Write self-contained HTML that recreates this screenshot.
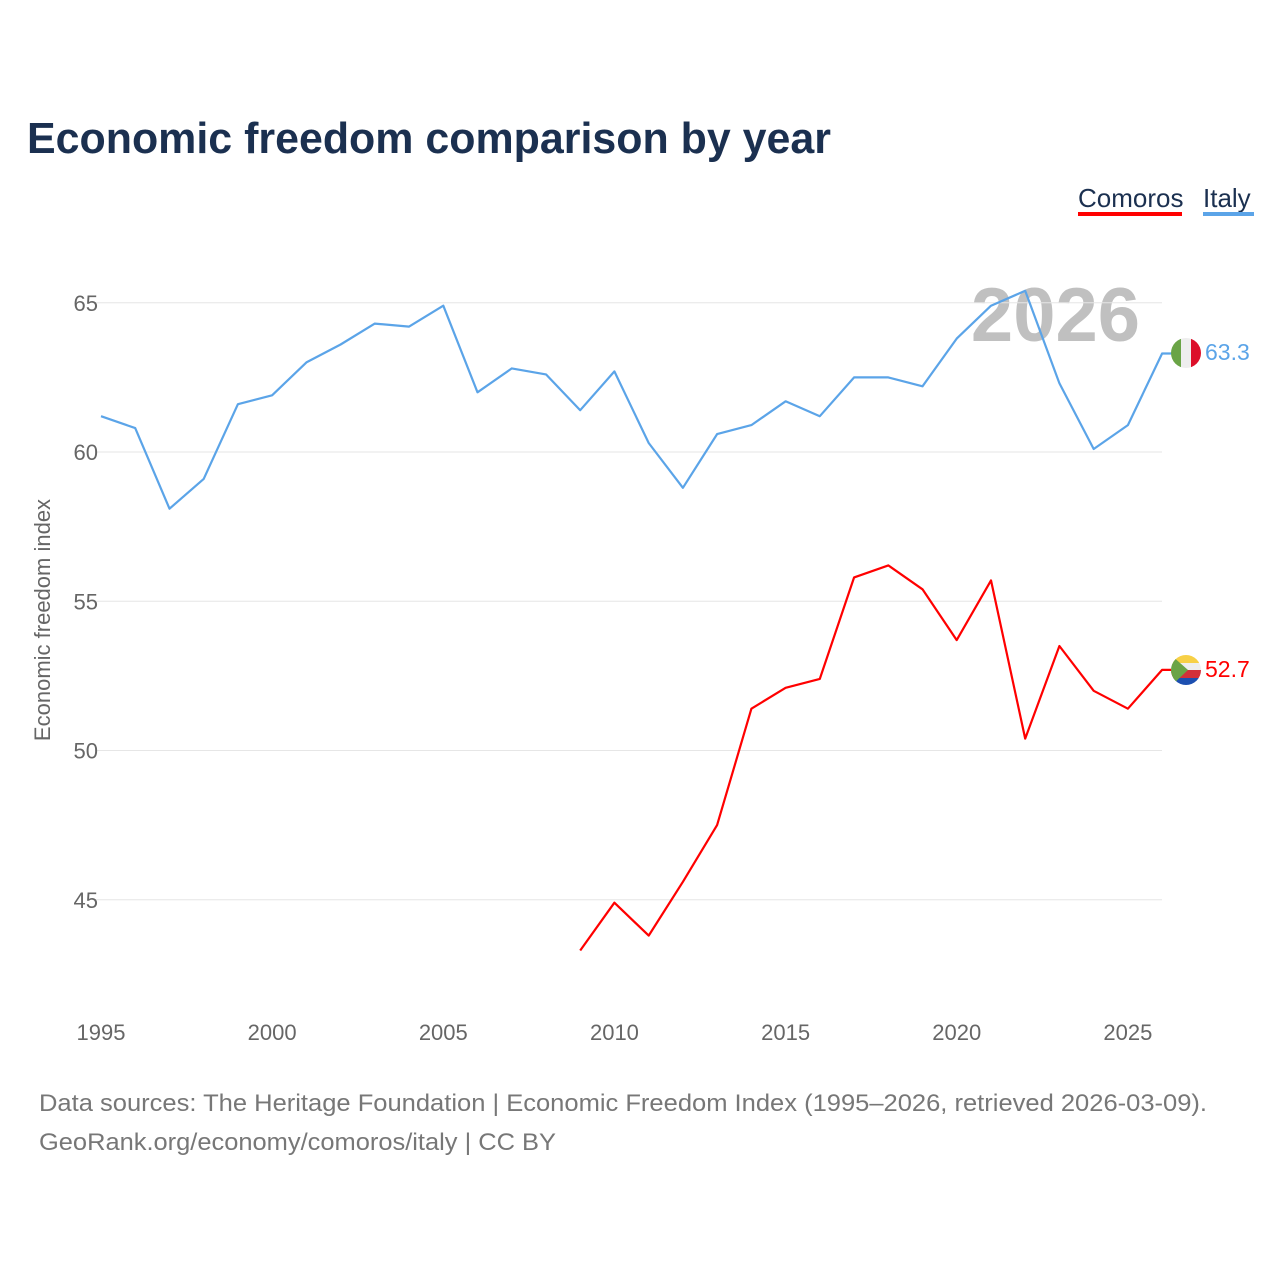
<!DOCTYPE html>
<html><head><meta charset="utf-8"><style>
body{margin:0;background:#fff;font-family:"Liberation Sans",sans-serif}
</style></head><body>
<svg width="1280" height="1280" viewBox="0 0 1280 1280" xmlns="http://www.w3.org/2000/svg">
<defs>
<clipPath id="cIt"><circle cx="1186" cy="353" r="15"/></clipPath>
<clipPath id="cKm"><circle cx="1186" cy="670" r="15"/></clipPath>
</defs>
<rect width="1280" height="1280" fill="#fff"/>
<text x="27" y="153" font-size="44" font-weight="bold" fill="#1b3050" textLength="804" lengthAdjust="spacingAndGlyphs">Economic freedom comparison by year</text>
<g>
<text x="1078" y="207" font-size="26" fill="#1b3050">Comoros</text>
<rect x="1078" y="212" width="104" height="4" fill="#ff0000"/>
<text x="1203" y="207" font-size="26" fill="#1b3050">Italy</text>
<rect x="1203" y="212" width="51" height="4" fill="#5ba4e8"/>
</g>
<text x="1140" y="341" font-size="76" font-weight="bold" fill="#c0c0c0" text-anchor="end">2026</text>
<g id="grid"></g>
<g id="xt"></g>
<text transform="translate(50,620) rotate(-90)" font-size="22" fill="#666" text-anchor="middle">Economic freedom index</text>
<g id="lines"></g>
<g clip-path="url(#cIt)">
<rect x="1171" y="338" width="10" height="30" fill="#6aa446"/><rect x="1181" y="338" width="10" height="30" fill="#eee"/><rect x="1191" y="338" width="10" height="30" fill="#dc0f2a"/>
</g>
<g clip-path="url(#cKm)">
<rect x="1171" y="655" width="30" height="8" fill="#f7d046"/><rect x="1171" y="663" width="30" height="7" fill="#eee"/><rect x="1171" y="670" width="30" height="8" fill="#d2303a"/><rect x="1171" y="678" width="30" height="8" fill="#1c4fb0"/>
<polygon points="1171,655 1188,670 1171,686" fill="#6aa446"/>
</g>
<text x="1205" y="360" font-size="23" fill="#5ba4e8">63.3</text>
<text x="1205" y="677" font-size="23" fill="#ff0000">52.7</text>
<text x="39" y="1111" font-size="24" fill="#777" textLength="1168" lengthAdjust="spacingAndGlyphs">Data sources: The Heritage Foundation | Economic Freedom Index (1995–2026, retrieved 2026-03-09).</text>
<text x="39" y="1150" font-size="24" fill="#777" textLength="517" lengthAdjust="spacingAndGlyphs">GeoRank.org/economy/comoros/italy | CC BY</text>
</svg>
<script>
const years = [1995,1996,1997,1998,1999,2000,2001,2002,2003,2004,2005,2006,2007,2008,2009,2010,2011,2012,2013,2014,2015,2016,2017,2018,2019,2020,2021,2022,2023,2024,2025,2026];
const italy = [61.2,60.8,58.1,59.1,61.6,61.9,63.0,63.6,64.3,64.2,64.9,62.0,62.8,62.6,61.4,62.7,60.3,58.8,60.6,60.9,61.7,61.2,62.5,62.5,62.2,63.8,64.9,65.4,62.3,60.1,60.9,63.3];
const comoros = [null,null,null,null,null,null,null,null,null,null,null,null,null,null,43.3,44.9,43.8,45.6,47.5,51.4,52.1,52.4,55.8,56.2,55.4,53.7,55.7,50.4,53.5,52.0,51.4,52.7];
const yTicks = [45,50,55,60,65];
const xTicks = [1995,2000,2005,2010,2015,2020,2025];
const NS="http://www.w3.org/2000/svg";
function X(yr){return 101+(yr-1995)*34.23;}
function Y(v){return 452-(v-60)*29.85;}
const grid=document.getElementById('grid');
yTicks.forEach(t=>{
  const l=document.createElementNS(NS,'line');
  l.setAttribute('x1',95);l.setAttribute('x2',1162);l.setAttribute('y1',Y(t));l.setAttribute('y2',Y(t));
  l.setAttribute('stroke','#e6e6e6');l.setAttribute('stroke-width','1');
  
  
  grid.appendChild(l);
  const tx=document.createElementNS(NS,'text');
  tx.setAttribute('x',98);tx.setAttribute('y',Y(t)+8);tx.setAttribute('text-anchor','end');
  tx.setAttribute('font-size','22');tx.setAttribute('fill','#666');tx.textContent=t;
  
  
  grid.appendChild(tx);
});
const xt=document.getElementById('xt');
xTicks.forEach(t=>{
  const tx=document.createElementNS(NS,'text');
  tx.setAttribute('x',X(t));tx.setAttribute('y',1040);tx.setAttribute('text-anchor','middle');
  tx.setAttribute('font-size','22');tx.setAttribute('fill','#666');tx.textContent=t;
  
  
  xt.appendChild(tx);
});
function line(vals,color,name){
  let d='';let last=null;
  vals.forEach((v,i)=>{if(v==null)return;d+=(d?'L':'M')+X(years[i]).toFixed(1)+','+Y(v).toFixed(1);last=v;});
  d+='L1172,'+Y(last).toFixed(1);
  const p=document.createElementNS(NS,'path');
  p.setAttribute('d',d);p.setAttribute('fill','none');p.setAttribute('stroke',color);p.setAttribute('stroke-width','2.2');
  p.setAttribute('stroke-linejoin','round');
  
  
  document.getElementById('lines').appendChild(p);
}
line(comoros,'#ff0000','comoros-line');
line(italy,'#5ba4e8','italy-line');
</script>
</body></html>
